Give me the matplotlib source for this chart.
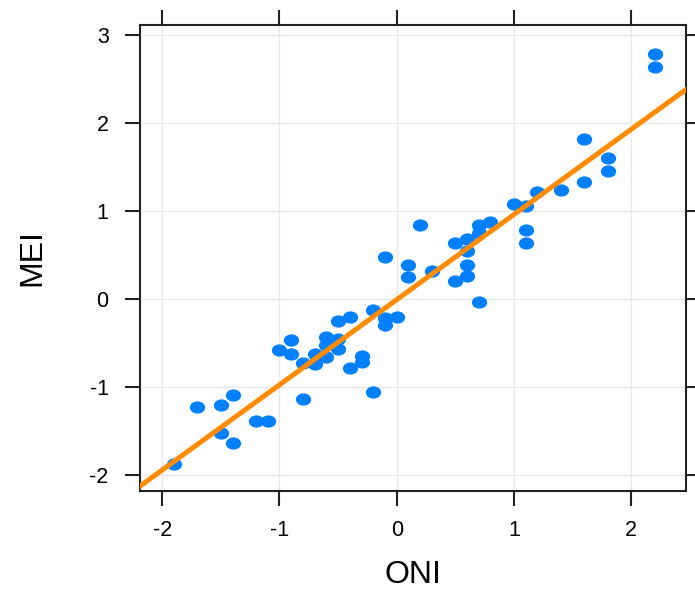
"""
ONI vs MEI scatter with a least-squares fit line, lattice-like styling.
"""

import numpy as np
import matplotlib.pyplot as plt
from matplotlib.path import Path
from matplotlib.transforms import Affine2D

plt.rcParams["font.family"] = ["Liberation Sans", "DejaVu Sans"]
plt.rcParams["axes.unicode_minus"] = False

# ONI (x) and MEI (y) values
oni = [-1.9, -1.7, -1.5, -1.4, -1.5, -1.4, -1.2, -1.1,
       -1.0, -0.9, -0.9, -0.8, -0.8, -0.7, -0.7, -0.6,
       -0.6, -0.6, -0.5, -0.5, -0.5, -0.4, -0.4, -0.3,
       -0.3, -0.2, -0.2, -0.1, -0.1, -0.1, 0.0, 0.1,
       0.1, 0.2, 0.3, 0.5, 0.5, 0.6, 0.6, 0.6,
       0.6, 0.7, 0.7, 0.7, 0.8, 1.0, 1.1, 1.1,
       1.1, 1.2, 1.4, 1.6, 1.6, 1.8, 1.8, 2.2, 2.2]
mei = [-1.87, -1.23, -1.20, -1.09, -1.52, -1.63, -1.38, -1.38,
       -0.58, -0.47, -0.62, -0.73, -1.13, -0.63, -0.74, -0.43,
       -0.52, -0.66, -0.45, -0.57, -0.25, -0.21, -0.78, -0.65,
       -0.71, -1.05, -0.13, 0.48, -0.22, -0.29, -0.21, 0.39,
       0.25, 0.84, 0.32, 0.64, 0.20, 0.68, 0.54, 0.38,
       0.26, 0.84, 0.75, -0.04, 0.87, 1.08, 1.05, 0.78,
       0.64, 1.21, 1.24, 1.81, 1.33, 1.60, 1.45, 2.78, 2.63]

X_TICKS = [-2, -1, 0, 1, 2]
Y_TICKS = [-2, -1, 0, 1, 2, 3]

DOT_COLOR  = "#0080ff"
LINE_COLOR = "#ff8c00"

# slightly wide dot, like the stretched original
ellipse = Path.unit_circle().transformed(Affine2D().scale(1.25, 1.0))

fig = plt.figure(figsize=(6.95, 5.91), dpi=100)
ax = fig.add_axes([0.2014, 0.169, 0.786, 0.789])

ax.grid(True, color="#e8e8e8", linewidth=1.0, zorder=0)
ax.set_axisbelow(True)

ax.plot(oni, mei, linestyle="none", marker=ellipse, markersize=11,
        color=DOT_COLOR, markeredgewidth=0, zorder=3)

slope, intercept = np.polyfit(oni, mei, 1)
xl = np.array([-2.3, 2.6])
ax.plot(xl, slope * xl + intercept, color=LINE_COLOR, linewidth=3.6,
        solid_capstyle="butt", zorder=4)

ax.set_xlim(-2.19, 2.47)
ax.set_ylim(-2.18, 3.11)
ax.set_xticks(X_TICKS)
ax.set_yticks(Y_TICKS)

for s in ax.spines.values():
    s.set_linewidth(1.5)
    s.set_color("#222222")

ax.tick_params(direction="out", length=10.5, width=1.5, labelsize=15.5,
               top=True, right=True, labeltop=False, labelright=False,
               color="#222222")
ax.tick_params(axis="x", pad=10)
ax.tick_params(axis="y", pad=12)

ax.set_xlabel("ONI", fontsize=23, labelpad=14)
ax.set_ylabel("MEI", fontsize=23, labelpad=30)

plt.savefig("out.png", dpi=100)
plt.close()
print(f"slope={slope:.3f} intercept={intercept:.3f}")
